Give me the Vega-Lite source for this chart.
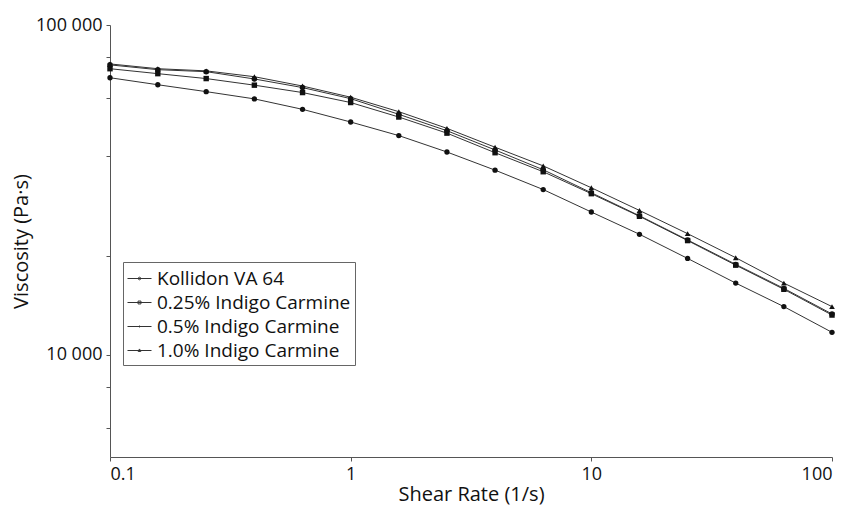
{
  "$schema": "https://vega.github.io/schema/vega-lite/v6.json",
  "autosize": {"type": "none"},
  "width": 722,
  "height": 432,
  "padding": {"left": 110, "top": 25, "right": 18, "bottom": 53},
  "background": "white",
  "config": {
    "view": {"stroke": null},
    "font": "Open Sans",
    "axis": {
      "grid": false,
      "labelFont": "Open Sans",
      "titleFont": "Open Sans",
      "labelFontSize": 18,
      "titleFontSize": 20,
      "titleFontWeight": "normal",
      "labelColor": "#111",
      "titleColor": "#111",
      "domainColor": "#555",
      "tickColor": "#555",
      "tickSize": 4,
      "labelPadding": 4
    }
  },
  "data": {
    "values": [
      {"series": "Kollidon VA 64", "x": 0.1, "y": 69200},
      {"series": "Kollidon VA 64", "x": 0.158, "y": 65900},
      {"series": "Kollidon VA 64", "x": 0.251, "y": 62800},
      {"series": "Kollidon VA 64", "x": 0.398, "y": 59700},
      {"series": "Kollidon VA 64", "x": 0.631, "y": 55500},
      {"series": "Kollidon VA 64", "x": 1, "y": 50800},
      {"series": "Kollidon VA 64", "x": 1.585, "y": 46200},
      {"series": "Kollidon VA 64", "x": 2.512, "y": 41200},
      {"series": "Kollidon VA 64", "x": 3.981, "y": 36300},
      {"series": "Kollidon VA 64", "x": 6.31, "y": 31700},
      {"series": "Kollidon VA 64", "x": 10, "y": 27100},
      {"series": "Kollidon VA 64", "x": 15.85, "y": 23200},
      {"series": "Kollidon VA 64", "x": 25.12, "y": 19600},
      {"series": "Kollidon VA 64", "x": 39.81, "y": 16500},
      {"series": "Kollidon VA 64", "x": 63.1, "y": 14000},
      {"series": "Kollidon VA 64", "x": 100, "y": 11700},
      {"series": "0.25% Indigo Carmine", "x": 0.1, "y": 73700},
      {"series": "0.25% Indigo Carmine", "x": 0.158, "y": 71200},
      {"series": "0.25% Indigo Carmine", "x": 0.251, "y": 68800},
      {"series": "0.25% Indigo Carmine", "x": 0.398, "y": 65700},
      {"series": "0.25% Indigo Carmine", "x": 0.631, "y": 62400},
      {"series": "0.25% Indigo Carmine", "x": 1, "y": 58200},
      {"series": "0.25% Indigo Carmine", "x": 1.585, "y": 52600},
      {"series": "0.25% Indigo Carmine", "x": 2.512, "y": 47000},
      {"series": "0.25% Indigo Carmine", "x": 3.981, "y": 41000},
      {"series": "0.25% Indigo Carmine", "x": 6.31, "y": 35900},
      {"series": "0.25% Indigo Carmine", "x": 10, "y": 30800},
      {"series": "0.25% Indigo Carmine", "x": 15.85, "y": 26300},
      {"series": "0.25% Indigo Carmine", "x": 25.12, "y": 22200},
      {"series": "0.25% Indigo Carmine", "x": 39.81, "y": 18700},
      {"series": "0.25% Indigo Carmine", "x": 63.1, "y": 15800},
      {"series": "0.25% Indigo Carmine", "x": 100, "y": 13200},
      {"series": "0.5% Indigo Carmine", "x": 0.1, "y": 75700},
      {"series": "0.5% Indigo Carmine", "x": 0.158, "y": 73200},
      {"series": "0.5% Indigo Carmine", "x": 0.251, "y": 72200},
      {"series": "0.5% Indigo Carmine", "x": 0.398, "y": 68600},
      {"series": "0.5% Indigo Carmine", "x": 0.631, "y": 64600},
      {"series": "0.5% Indigo Carmine", "x": 1, "y": 59800},
      {"series": "0.5% Indigo Carmine", "x": 1.585, "y": 53600},
      {"series": "0.5% Indigo Carmine", "x": 2.512, "y": 47800},
      {"series": "0.5% Indigo Carmine", "x": 3.981, "y": 41800},
      {"series": "0.5% Indigo Carmine", "x": 6.31, "y": 36400},
      {"series": "0.5% Indigo Carmine", "x": 10, "y": 31000},
      {"series": "0.5% Indigo Carmine", "x": 15.85, "y": 26400},
      {"series": "0.5% Indigo Carmine", "x": 25.12, "y": 22300},
      {"series": "0.5% Indigo Carmine", "x": 39.81, "y": 18800},
      {"series": "0.5% Indigo Carmine", "x": 63.1, "y": 15900},
      {"series": "0.5% Indigo Carmine", "x": 100, "y": 13300},
      {"series": "1.0% Indigo Carmine", "x": 0.1, "y": 76200},
      {"series": "1.0% Indigo Carmine", "x": 0.158, "y": 73700},
      {"series": "1.0% Indigo Carmine", "x": 0.251, "y": 72600},
      {"series": "1.0% Indigo Carmine", "x": 0.398, "y": 69700},
      {"series": "1.0% Indigo Carmine", "x": 0.631, "y": 65300},
      {"series": "1.0% Indigo Carmine", "x": 1, "y": 60400},
      {"series": "1.0% Indigo Carmine", "x": 1.585, "y": 54600},
      {"series": "1.0% Indigo Carmine", "x": 2.512, "y": 48600},
      {"series": "1.0% Indigo Carmine", "x": 3.981, "y": 42600},
      {"series": "1.0% Indigo Carmine", "x": 6.31, "y": 37400},
      {"series": "1.0% Indigo Carmine", "x": 10, "y": 32100},
      {"series": "1.0% Indigo Carmine", "x": 15.85, "y": 27400},
      {"series": "1.0% Indigo Carmine", "x": 25.12, "y": 23300},
      {"series": "1.0% Indigo Carmine", "x": 39.81, "y": 19700},
      {"series": "1.0% Indigo Carmine", "x": 63.1, "y": 16500},
      {"series": "1.0% Indigo Carmine", "x": 100, "y": 14000}
    ]
  },
  "encoding": {
    "x": {
      "field": "x", "type": "quantitative",
      "scale": {"type": "log", "domain": [0.1, 100], "nice": false},
      "axis": {
        "title": "Shear Rate (1/s)",
        "values": [0.1, 1, 10, 100],
        "labelExpr": "datum.value < 1 ? '0.1' : format(datum.value, 'd')",
        "titlePadding": 1
      }
    },
    "y": {
      "field": "y", "type": "quantitative",
      "scale": {"type": "log", "domain": [4900, 100000], "nice": false},
      "axis": {
        "title": "Viscosity (Pa·s)",
        "values": [6000, 8000, 10000, 20000, 40000, 60000, 80000, 100000],
        "labelExpr": "datum.value == 100000 ? '100 000' : (datum.value == 10000 ? '10 000' : '')",
        "titlePadding": 4
      }
    }
  },
  "layer": [
    {
      "mark": {"type": "line", "color": "#333", "strokeWidth": 1},
      "encoding": {"detail": {"field": "series", "type": "nominal"}}
    },
    {
      "mark": {"type": "point", "filled": true, "color": "#111", "opacity": 1},
      "encoding": {
        "shape": {
          "field": "series", "type": "nominal",
          "scale": {
            "domain": ["Kollidon VA 64", "0.25% Indigo Carmine", "0.5% Indigo Carmine", "1.0% Indigo Carmine"],
            "range": ["circle", "square", "circle", "triangle-up"]
          },
          "legend": null
        },
        "size": {
          "field": "series", "type": "ordinal",
          "scale": {
            "domain": ["Kollidon VA 64", "0.25% Indigo Carmine", "0.5% Indigo Carmine", "1.0% Indigo Carmine"],
            "range": [28, 32, 7, 18]
          },
          "legend": null
        }
      }
    },
    {
      "mark": {"type": "point", "filled": false, "color": "#333", "strokeWidth": 1, "opacity": 0},
      "encoding": {
        "shape": {
          "field": "series", "type": "nominal",
          "scale": {
            "domain": ["Kollidon VA 64", "0.25% Indigo Carmine", "0.5% Indigo Carmine", "1.0% Indigo Carmine"],
            "range": [
              "M-1,0H1M0.11,0A0.11,0.11 0 1,1 -0.11,0A0.11,0.11 0 1,1 0.11,0Z",
              "M-1,0H1M-0.12,-0.12H0.12V0.12H-0.12Z",
              "M-1,0H1M0.05,0A0.05,0.05 0 1,1 -0.05,0A0.05,0.05 0 1,1 0.05,0Z",
              "M-1,0H1M0,-0.13L0.11,0.08H-0.11Z"
            ]
          },
          "legend": {
            "title": null,
            "orient": "none",
            "legendX": 13,
            "legendY": 237,
            "padding": 4,
            "strokeColor": "#666",
            "fillColor": "white",
            "labelFont": "Open Sans",
            "labelFontSize": 19,
            "labelColor": "#111",
            "labelOffset": 5,
            "symbolSize": 576,
            "symbolOpacity": 1,
            "symbolFillColor": "#111",
            "symbolStrokeColor": "#333",
            "symbolStrokeWidth": 1,
            "rowPadding": 1,
            "labelLimit": 400,
            "encode": {
              "symbols": {"update": {"opacity": {"value": 1}, "fill": {"value": "#111"}, "fillOpacity": {"value": 1}, "stroke": {"value": "#333"}, "strokeOpacity": {"value": 1}, "strokeWidth": {"value": 1}}}
            }
          }
        }
      }
    }
  ],
  "resolve": {"scale": {"shape": "independent", "size": "independent"}, "legend": {"shape": "independent"}}
}
